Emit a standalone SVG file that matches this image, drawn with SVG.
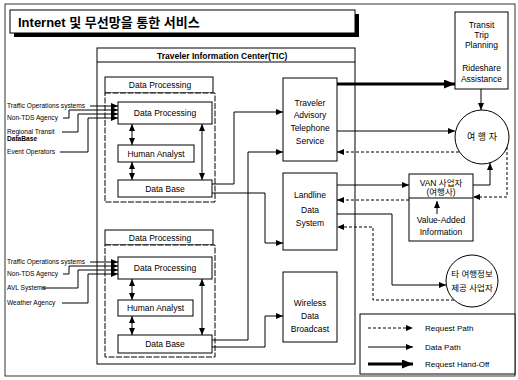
<svg xmlns="http://www.w3.org/2000/svg" width="518" height="380" viewBox="0 0 518 380">
<style>
text{font-family:"Liberation Sans",Arial,"Noto Sans CJK KR",sans-serif;fill:#000}
.box{fill:#fff;stroke:#000;stroke-width:1}
.ln{fill:none;stroke:#000;stroke-width:1}
.dl{fill:none;stroke:#000;stroke-width:1;stroke-dasharray:3 2}
.th{fill:none;stroke:#000;stroke-width:3}
.bt{font-size:8.5px;text-anchor:middle}
.lb{font-size:6.6px}
.lg{font-size:8px}
</style>
<defs>
<marker id="a" markerUnits="userSpaceOnUse" markerWidth="7" markerHeight="6" refX="7" refY="3" orient="auto-start-reverse"><path d="M0,0 L7,3 L0,6 z" fill="#000"/></marker>
<marker id="b" markerUnits="userSpaceOnUse" markerWidth="11" markerHeight="9" refX="11" refY="4.5" orient="auto"><path d="M0,0 L11,4.5 L0,9 z" fill="#000"/></marker>
</defs>
<rect x="5" y="4" width="510" height="372" fill="none" stroke="#000" stroke-width="0.8"/>
<g id="title">
<rect x="14" y="14" width="345" height="23" fill="#000"/>
<rect x="10" y="10" width="345" height="23" class="box"/>
<text x="18" y="27" style="font-size:13px;font-weight:bold">Internet 및 무선망을 통한 서비스</text>
</g>
<g id="tic">
<rect x="97" y="48" width="258" height="316" class="box"/>
<line x1="97" y1="62" x2="355" y2="62" class="ln"/>
<text x="157" y="58.5" style="font-size:8.5px;font-weight:bold">Traveler Information Center(TIC)</text>
</g>
<g id="group1">
<rect x="105" y="77" width="108" height="16" class="box"/>
<text x="160" y="88" class="bt">Data Processing</text>
<rect x="105" y="93" width="110" height="109" class="box" stroke-dasharray="6 1.5"/>
</g>
<g id="dp1"><rect x="118" y="102" width="94" height="22" class="box"/><text x="165" y="116" class="bt">Data Processing</text></g>
<g id="ha1"><rect x="118" y="145" width="76" height="17" class="box"/><text x="156" y="156.5" class="bt">Human Analyst</text></g>
<g id="db1"><rect x="118" y="180" width="94" height="17" class="box"/><text x="165" y="191.5" class="bt">Data Base</text></g>
<g id="group2">
<rect x="105" y="230" width="108" height="15" class="box"/>
<text x="160" y="241" class="bt">Data Processing</text>
<rect x="105" y="245" width="110" height="112" class="box" stroke-dasharray="6 1.5"/>
</g>
<g id="dp2"><rect x="118" y="257" width="94" height="22" class="box"/><text x="165" y="271" class="bt">Data Processing</text></g>
<g id="ha2"><rect x="118" y="300" width="75" height="16" class="box"/><text x="155.5" y="311" class="bt">Human Analyst</text></g>
<g id="db2"><rect x="118" y="335" width="94" height="18" class="box"/><text x="165" y="347" class="bt">Data Base</text></g>
<g id="tat"><rect x="283" y="78" width="54" height="83" class="box"/>
<text class="bt" x="310"><tspan x="310" y="106">Traveler</tspan><tspan x="310" y="118">Advisory</tspan><tspan x="310" y="131">Telephone</tspan><tspan x="310" y="144">Service</tspan></text></g>
<g id="lds"><rect x="283" y="173" width="54" height="77" class="box"/>
<text class="bt" x="310"><tspan x="310" y="198">Landline</tspan><tspan x="310" y="213">Data</tspan><tspan x="310" y="226">System</tspan></text></g>
<g id="wdb"><rect x="283" y="272" width="54" height="70" class="box"/>
<text class="bt" x="310"><tspan x="310" y="306">Wireless</tspan><tspan x="310" y="319">Data</tspan><tspan x="310" y="332">Broadcast</tspan></text></g>
<g id="ttp"><rect x="455" y="12" width="53" height="77" class="box"/>
<text class="bt" x="481.5"><tspan x="481.5" y="28">Transit</tspan><tspan x="481.5" y="38">Trip</tspan><tspan x="481.5" y="48">Planning</tspan><tspan x="481.5" y="71">Rideshare</tspan><tspan x="481.5" y="82">Assistance</tspan></text></g>
<g id="traveler"><circle cx="482" cy="137" r="27" class="box"/><text x="482" y="140" class="bt" style="font-size:9px">여 행 자</text></g>
<g id="van"><rect x="409" y="174" width="64" height="67" class="box"/>
<line x1="409" y1="198" x2="473" y2="198" class="ln"/>
<text class="bt" x="441"><tspan x="441" y="186">VAN 사업자</tspan><tspan x="441" y="195">(여행사)</tspan></text>
<line x1="437" y1="214" x2="437" y2="201" class="ln" marker-end="url(#a)"/>
<text class="bt" x="441"><tspan x="441" y="223">Value-Added</tspan><tspan x="441" y="235">Information</tspan></text></g>
<g id="other"><circle cx="472" cy="281" r="26" class="box"/>
<text class="bt" x="472"><tspan x="472" y="277">타 여행정보</tspan><tspan x="472" y="291">제공 사업자</tspan></text></g>
<g id="sources">
<text x="7" y="108" class="lb">Traffic Operations systems</text>
<text x="7" y="120" class="lb">Non-TDS Agency</text>
<text x="7" y="134" class="lb">Regional Transit</text>
<text x="7" y="141" class="lb" style="font-weight:bold">DataBase</text>
<text x="7" y="154" class="lb">Event Operators</text>
<text x="7" y="264" class="lb">Traffic Operations systems</text>
<text x="7" y="276" class="lb">Non-TDS Agency</text>
<text x="7" y="290" class="lb">AVL Systems</text>
<text x="7" y="305" class="lb">Weather Agency</text>
</g>
<g id="legend">
<rect x="360" y="314" width="155" height="60" class="box"/>
<line x1="368" y1="328" x2="413" y2="328" class="dl" marker-end="url(#a)"/>
<text x="425" y="331" class="lg">Request Path</text>
<line x1="368" y1="347" x2="413" y2="347" class="ln" marker-end="url(#a)"/>
<text x="425" y="350" class="lg">Data Path</text>
<line x1="368" y1="364" x2="413" y2="364" class="th" marker-end="url(#b)"/>
<text x="425" y="367" class="lg">Request Hand-Off</text>
</g>
<g id="connectors">
<polyline points="90,106 118,106" class="ln" marker-end="url(#a)"/>
<polyline points="63,118 69,118 69,110 118,110" class="ln" marker-end="url(#a)"/>
<polyline points="62,132 78,132 78,114 118,114" class="ln" marker-end="url(#a)"/>
<polyline points="60,152 88,152 88,118 118,118" class="ln" marker-end="url(#a)"/>
<polyline points="90,262 118,262" class="ln" marker-end="url(#a)"/>
<polyline points="63,274 69,274 69,266 118,266" class="ln" marker-end="url(#a)"/>
<polyline points="42,288 78,288 78,270 118,270" class="ln" marker-end="url(#a)"/>
<polyline points="62,303 88,303 88,274 118,274" class="ln" marker-end="url(#a)"/>
<line x1="132" y1="124" x2="132" y2="145" class="ln" marker-start="url(#a)" marker-end="url(#a)"/>
<line x1="132" y1="162" x2="132" y2="180" class="ln" marker-start="url(#a)" marker-end="url(#a)"/>
<line x1="202" y1="124" x2="202" y2="180" class="ln" marker-start="url(#a)" marker-end="url(#a)"/>
<line x1="132" y1="279" x2="132" y2="300" class="ln" marker-start="url(#a)" marker-end="url(#a)"/>
<line x1="132" y1="316" x2="132" y2="335" class="ln" marker-start="url(#a)" marker-end="url(#a)"/>
<line x1="202" y1="279" x2="202" y2="335" class="ln" marker-start="url(#a)" marker-end="url(#a)"/>
<polyline points="212,184 234,184 234,112 283,112" class="ln" marker-end="url(#a)"/>
<polyline points="212,193 265,193 265,243 283,243" class="ln" marker-end="url(#a)"/>
<polyline points="212,340 248,340 248,152 283,152" class="ln" marker-end="url(#a)"/>
<polyline points="212,347 265,347 265,316 283,316" class="ln" marker-end="url(#a)"/>
<line x1="337" y1="84" x2="455" y2="84" class="th" marker-end="url(#b)"/>
<line x1="481" y1="89" x2="481" y2="110" class="ln" marker-end="url(#a)"/>
<line x1="337" y1="131" x2="455" y2="131" class="ln" marker-end="url(#a)"/>
<line x1="459" y1="152" x2="337" y2="152" class="dl" marker-end="url(#a)"/>
<polyline points="507,147 507,197 473,197" class="dl" marker-end="url(#a)"/>
<line x1="409" y1="200" x2="337" y2="200" class="dl" marker-end="url(#a)"/>
<polyline points="473,185 490,185 490,163" class="ln" marker-end="url(#a)"/>
<line x1="337" y1="185" x2="409" y2="185" class="ln" marker-end="url(#a)"/>
<polyline points="337,214 392,214 392,285 446,285" class="ln" marker-end="url(#a)"/>
<polyline points="454,300 373,300 373,227 337,227" class="dl" marker-end="url(#a)"/>
</g>
</svg>
